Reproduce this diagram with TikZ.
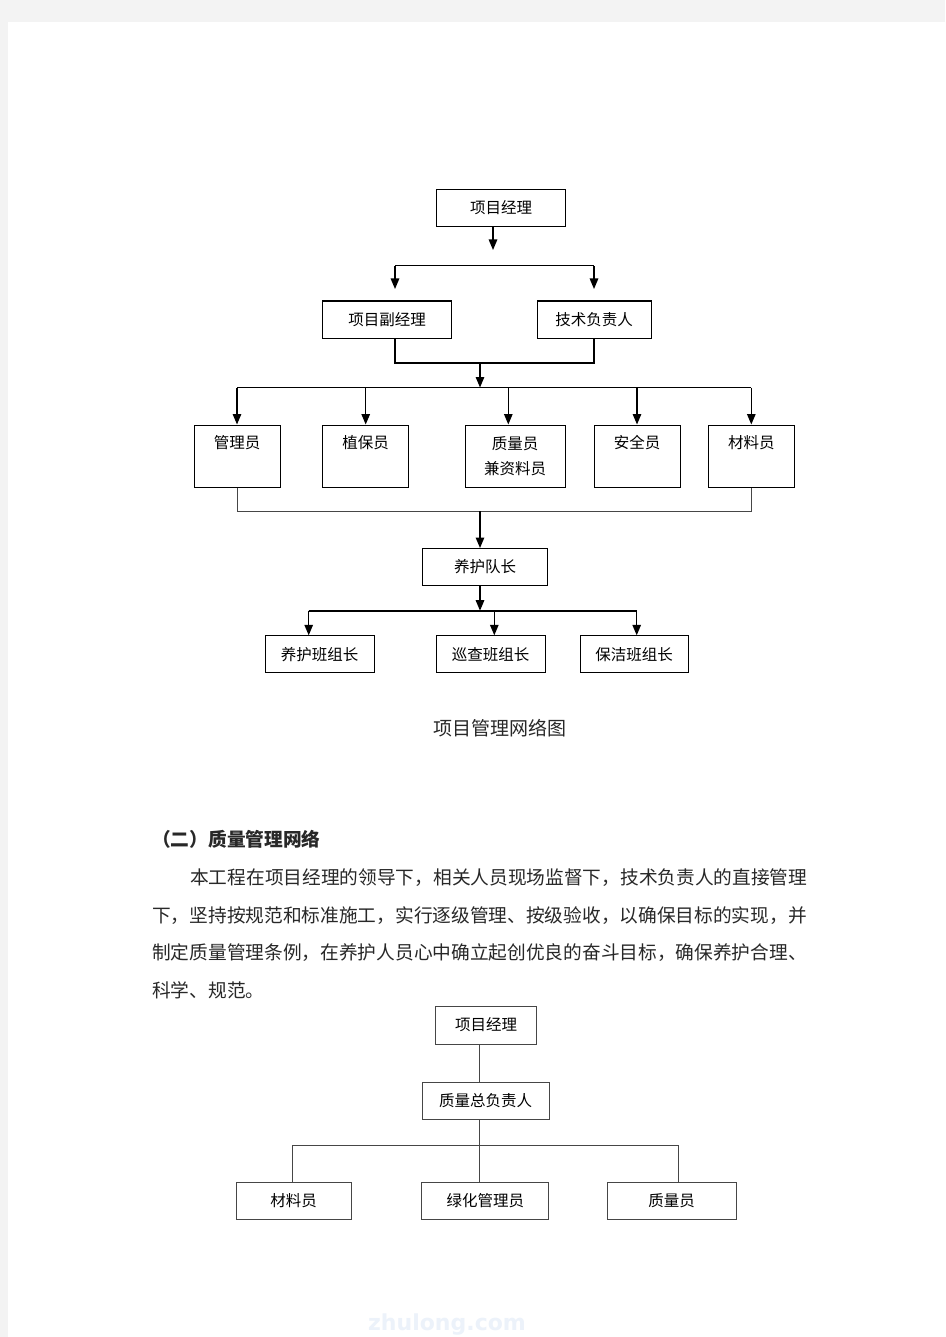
\documentclass[tikz,border=0pt]{standalone}
\usepackage{fontspec}
\setmainfont{Noto Sans CJK SC}
\newfontfamily\cjk{Noto Sans CJK SC}
\newfontfamily\wmfont{DejaVu Sans}
\usetikzlibrary{arrows.meta}
\definecolor{pagegray}{RGB}{243,243,243}
\definecolor{wmblue}{RGB}{236,242,250}
\definecolor{linegray}{RGB}{70,70,70}
\definecolor{textgray}{RGB}{40,40,40}

\begin{document}
\begin{tikzpicture}[x=1pt,y=-1pt]
  \tikzset{ bx/.style={draw,line width=1pt,inner sep=0pt,minimum height=37pt,align=center,
      font=\cjk\fontsize{15.5}{25.6}\selectfont},
    bxt/.style={bx,minimum width=86pt,minimum height=62pt,text height=12pt,text depth=28pt},
    bxq/.style={bx,draw=linegray},
    arr/.style={-{Triangle[length=10.5pt,width=8.5pt]},line width=1.3pt},
    ln/.style={line width=1pt},
    thk/.style={line width=2pt},
    lnq/.style={line width=1pt,linegray},
    txt/.style={anchor=west,inner sep=0pt,text=textgray,font=\cjk\fontsize{18.7}{20}\selectfont},
  }
  % page and margins
  \fill[pagegray] (0,0) rectangle (945,1337);
  \fill[white] (8,22) rectangle (945,1337);
  \useasboundingbox (0,0) rectangle (945,1337);

  % project management network
  \node[bx,minimum width=129pt] (PM) at (501,208) {项目经理};
  \node[bx,minimum width=129pt] (VPM) at (387,319.5) {项目副经理};
  \node[bx,minimum width=114pt] (TL) at (594,319.5) {技术负责人};

  \node[bxt] (M1) at (237,456) {管理员};
  \node[bxt] (M2) at (365.7,456) {植保员};
  \node[bx,minimum width=100pt,minimum height=62pt] (M3) at (515.2,456) {质量员\\兼资料员};
  \node[bxt] (M4) at (637,456) {安全员};
  \node[bxt] (M5) at (751.3,456) {材料员};

  \node[bx,minimum width=125pt] (LD) at (485,567) {养护队长};

  \node[bx,minimum width=109pt] (G1) at (319.5,654.3) {养护班组长};
  \node[bx,minimum width=109pt] (G2) at (490.5,654.3) {巡查班组长};
  \node[bx,minimum width=108pt] (G3) at (634.2,654.3) {保洁班组长};

  \node[txt,anchor=center,font=\cjk\fontsize{19}{20}\selectfont] (CAP) at (500,728) {项目管理网络图};

  % the connections of the first chart
  \coordinate (s1) at (493,250);
  \coordinate (h1l) at (395,266);
  \coordinate (h1r) at (594,266);
  \coordinate (t1l) at (395,289);
  \coordinate (t1r) at (594,289);
  \draw[arr] (PM.south -| s1) -- (s1);
  \draw[ln] (h1l) -- (h1r);
  \draw[arr] (h1l) -- (t1l);
  \draw[arr] (h1r) -- (t1r);

  \coordinate (j2) at (480,363);
  \coordinate (h2) at (480,387.5);
  \coordinate (q3) at (508.3,387.5);
  \draw[thk] (VPM.south -| t1l) |- (j2) -| (TL.south);
  \draw[arr] (j2) -- (h2);
  \draw[ln] (M1.north |- h2) -- (M5.north |- h2);
  \foreach \m in {M1,M2,M4,M5} \draw[arr] (\m.north |- h2) -- (\m.north);
  \draw[arr] (q3) -- (M3.north -| q3);

  \coordinate (h3) at (480,511.3);
  \draw[lnq] (M1.south) |- (h3) -| (M5.south);
  \draw[arr] (h3) -- (LD.north -| h3);

  \coordinate (h4) at (480,610.7);
  \coordinate (g1) at (308.7,610.7);
  \coordinate (g2) at (494.3,610.7);
  \coordinate (g3) at (636.7,610.7);
  \draw[arr] (LD.south -| h4) -- (h4);
  \draw[thk] (g1) -- (g3);
  \foreach \g in {1,2,3} \draw[arr] (g\g) -- (G\g.north -| g\g);

  % heading and paragraph
  \node[txt,font=\cjk\bfseries\fontsize{18.7}{20}\selectfont] (H2) at (152,839) {（二）质量管理网络};
  \node[txt] (P1) at (190,878) {本工程在项目经理的领导下，相关人员现场监督下，技术负责人的直接管理};
  \node[txt] (P2) at (152,916) {下，坚持按规范和标准施工，实行逐级管理、按级验收，以确保目标的实现，并};
  \node[txt] (P3) at (152,953) {制定质量管理条例，在养护人员心中确立起创优良的奋斗目标，确保养护合理、};
  \node[txt] (P4) at (152,990) {科学、规范。};

  % quality management network
  \node[bxq,minimum width=101pt,minimum height=38pt] (QP) at (486,1025) {项目经理};
  \node[bxq,minimum width=127pt] (QC) at (485.7,1100.5) {质量总负责人};
  \node[bxq,minimum width=115pt] (Q1) at (293.5,1200.5) {材料员};
  \node[bxq,minimum width=127pt] (Q2) at (485.4,1200.5) {绿化管理员};
  \node[bxq,minimum width=129pt] (Q3) at (671.5,1200.5) {质量员};

  \coordinate (k) at (479,1145.3);
  \coordinate (kl) at (292.6,1145.3);
  \coordinate (kr) at (678.8,1145.3);
  \draw[lnq] (QP.south -| k) -- (QC.north -| k);
  \draw[lnq] (QC.south -| k) -- (Q2.north -| k);
  \draw[lnq] (Q1.north -| kl) |- (kr) -- (Q3.north -| kr);

  % watermark
  \node[anchor=base,inner sep=0pt,text=wmblue,font=\wmfont\bfseries\fontsize{22}{22}\selectfont] (WM) at (447,1330) {zhulong.com};
\end{tikzpicture}
\end{document}
